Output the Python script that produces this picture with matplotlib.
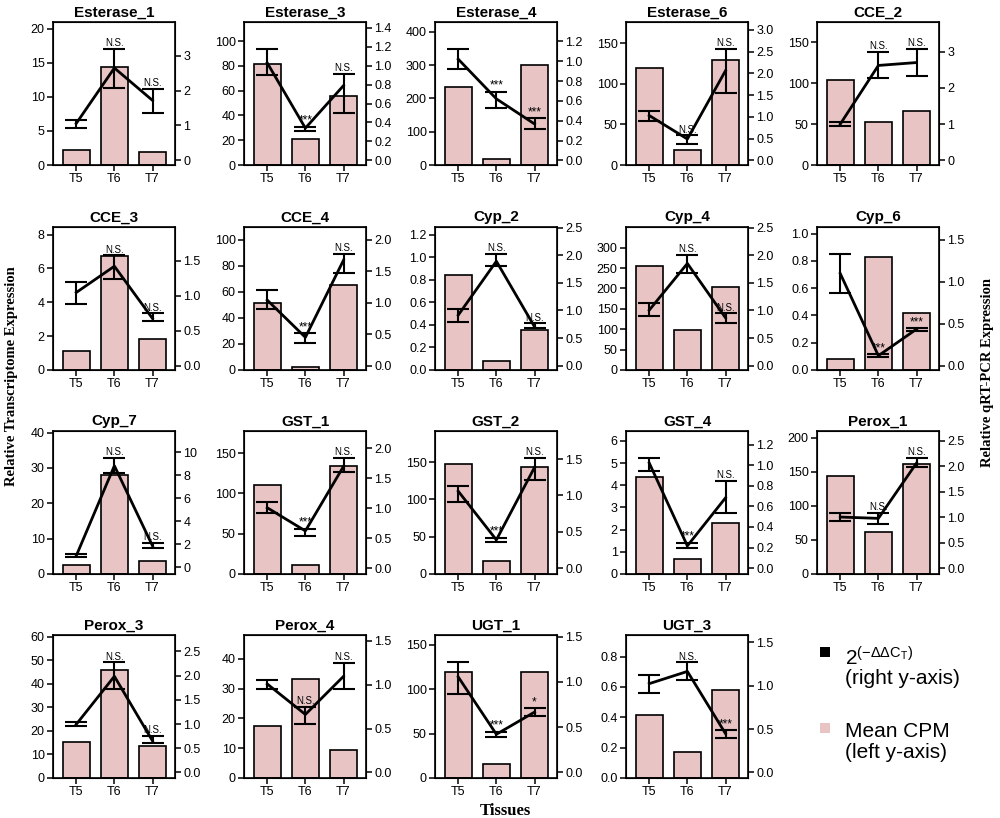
import matplotlib
matplotlib.use("Agg")
import matplotlib.pyplot as plt
from matplotlib.patches import Rectangle

plt.rcParams['font.family'] = ['Liberation Sans', 'DejaVu Sans']
plt.rcParams['mathtext.fontset'] = 'custom'
plt.rcParams['mathtext.rm'] = 'Liberation Sans'

tissues = ["T5", "T6", "T7"]
genes = ["Esterase_1", "Esterase_3", "Esterase_4", "Esterase_6", "CCE_2",
         "CCE_3", "CCE_4", "Cyp_2", "Cyp_4", "Cyp_6",
         "Cyp_7", "GST_1", "GST_2", "GST_4", "Perox_1",
         "Perox_3", "Perox_4", "UGT_1", "UGT_3"]

# Mean CPM (left axis bars)
cpm = [[2.2, 14.4, 1.9], [81.4, 21.0, 55.5], [236, 19, 301], [119, 19, 128.6], [103.4, 53.1, 65.8],
       [1.12, 6.72, 1.81], [51.5, 2.3, 65.5], [0.84, 0.083, 0.354], [254, 98.6, 203], [0.078, 0.829, 0.415],
       [2.53, 27.9, 3.56], [111, 11.1, 133.6], [147.4, 16.9, 143.4], [4.36, 0.67, 2.31], [143.2, 61.7, 161.2],
       [15.3, 45.7, 13.7], [17.4, 33.3, 9.4], [119, 15.7, 119], [0.412, 0.174, 0.578]]

# 2^(-ddCt) (right axis line), with lower / upper error bounds
q_mean = [[1.06, 2.65, 1.72], [1.03, 0.34, 0.79], [1.02, 0.62, 0.367], [1.03, 0.49, 2.06], [1.0, 2.62, 2.70],
          [1.048, 1.424, 0.676], [1.04, 0.449, 1.673], [0.916, 1.89, 0.705], [1.006, 1.85, 0.867], [1.096, 0.119, 0.435],
          [1.006, 8.82, 1.87], [1.006, 0.619, 1.696], [1.058, 0.388, 1.386], [1.023, 0.216, 0.684], [1.003, 0.977, 2.064],
          [0.993, 1.986, 0.651], [1.009, 0.661, 1.096], [1.054, 0.421, 0.666], [1.023, 1.164, 0.447]]
q_lo = [[0.92, 2.07, 1.37], [0.905, 0.31, 0.505], [0.92, 0.53, 0.317], [0.913, 0.376, 1.558], [0.95, 2.26, 2.33],
        [0.89, 1.248, 0.643], [0.892, 0.364, 1.478], [0.789, 1.81, 0.675], [0.898, 1.68, 0.777], [0.859, 0.107, 0.412],
        [0.862, 8.19, 1.724], [0.912, 0.536, 1.602], [0.912, 0.36, 1.218], [0.942, 0.2, 0.539], [0.924, 0.872, 1.986],
        [0.959, 1.733, 0.603], [0.956, 0.548, 0.956], [0.871, 0.391, 0.622], [0.916, 1.069, 0.393]]
q_hi = [[1.16, 3.19, 2.05], [1.177, 0.357, 0.915], [1.12, 0.694, 0.425], [1.136, 0.576, 2.555], [1.07, 2.99, 3.07],
        [1.2, 1.58, 0.748], [1.198, 0.512, 1.768], [1.018, 2.02, 0.765], [1.127, 2.01, 0.946], [1.326, 0.139, 0.451],
        [1.149, 9.48, 2.155], [1.105, 0.657, 1.834], [1.126, 0.42, 1.514], [1.071, 0.248, 0.852], [1.087, 1.087, 2.161],
        [1.048, 2.274, 0.753], [1.058, 0.748, 1.254], [1.215, 0.45, 0.706], [1.122, 1.267, 0.489]]

sig = [["", "N.S.", "N.S."], ["", "***", "N.S."], ["", "***", "***"], ["", "N.S.", "N.S."], ["", "N.S.", "N.S."],
       ["", "N.S.", "N.S."], ["", "***", "N.S."], ["", "N.S.", "N.S."], ["", "N.S.", "N.S."], ["", "***", "***"],
       ["", "N.S.", "N.S."], ["", "***", "N.S."], ["", "***", "N.S."], ["", "***", "N.S."], ["", "N.S.", "N.S."],
       ["", "N.S.", "N.S."], ["", "N.S.", "N.S."], ["", "***", "*"], ["", "N.S.", "***"]]

# tick labels: (start, stop, step) for left and right axes
left_ticks = [(0, 20, 5), (0, 100, 20), (0, 400, 100), (0, 150, 50), (0, 150, 50),
              (0, 8, 2), (0, 100, 20), (0.0, 1.2, 0.2), (0, 300, 50), (0.0, 1.0, 0.2),
              (0, 40, 10), (0, 150, 50), (0, 150, 50), (0, 6, 1), (0, 200, 50),
              (0, 60, 10), (0, 40, 10), (0, 150, 50), (0.0, 0.8, 0.2)]
right_ticks = [(0, 3, 1), (0.0, 1.4, 0.2), (0.0, 1.2, 0.2), (0.0, 3.0, 0.5), (0, 3, 1),
               (0.0, 1.5, 0.5), (0.0, 2.0, 0.5), (0.0, 2.5, 0.5), (0.0, 2.5, 0.5), (0.0, 1.5, 0.5),
               (0, 10, 2), (0.0, 2.0, 0.5), (0.0, 1.5, 0.5), (0.0, 1.2, 0.2), (0.0, 2.5, 0.5),
               (0.0, 2.5, 0.5), (0.0, 1.5, 0.5), (0.0, 1.5, 0.5), (0.0, 1.5, 0.5)]
left_top = [21.0, 115.4, 430, 175.9, 174.9,
            8.45, 109.7, 1.268, 350.5, 1.049,
            40.45, 177.5, 191.7, 6.45, 209.7,
            60.7, 48.0, 161.2, 0.942]
right_lim = [(-0.134, 3.97), (-0.05, 1.463), (-0.047, 1.395), (-0.107, 3.18), (-0.13, 3.82),
             (-0.062, 1.986), (-0.069, 2.2), (-0.078, 2.51), (-0.078, 2.51), (-0.051, 1.65),
             (-0.575, 11.84), (-0.1, 2.287), (-0.082, 1.888), (-0.058, 1.335), (-0.117, 2.695),
             (-0.116, 2.84), (-0.064, 1.568), (-0.062, 1.518), (-0.065, 1.584)]

BAR_COLOR = '#E8C4C4'
W, H = 1000, 818
fig = plt.figure(figsize=(W / 100, H / 100), dpi=100)

col_left = [53, 244, 435, 626, 817]
row_top = [22, 227, 431, 635]
ax_w, ax_h = 122, 143


def make_ticks(spec):
    a, b, s = spec
    n = int(round((b - a) / s))
    vals = [a + i * s for i in range(n + 1)]
    is_int = all(float(v).is_integer() for v in (a, b, s))
    labels = [("%d" % round(v)) if is_int else ("%.1f" % v) for v in vals]
    return vals, labels


x = [1, 2, 3]
for i, g in enumerate(genes):
    r, c = divmod(i, 5)
    left = col_left[c] / W
    bottom = 1 - (row_top[r] + ax_h) / H
    ax = fig.add_axes([left, bottom, ax_w / W, ax_h / H])
    ax.bar(x, cpm[i], width=0.7, color=BAR_COLOR, edgecolor='black', linewidth=1.2, zorder=2)
    ax.set_xlim(0.39, 3.59)
    ax.set_ylim(0, left_top[i])
    vals, labs = make_ticks(left_ticks[i])
    ax.set_yticks(vals)
    ax.set_yticklabels(labs)
    ax.set_xticks(x)
    ax.set_xticklabels(tissues)
    ax.tick_params(axis='both', labelsize=9, length=4, width=1.1, pad=2, direction='out')
    ax.set_title(g, fontsize=11, fontweight='bold', pad=4)
    for sp in ax.spines.values():
        sp.set_linewidth(1.2)

    ax2 = ax.twinx()
    ax2.set_ylim(*right_lim[i])
    vals, labs = make_ticks(right_ticks[i])
    ax2.set_yticks(vals)
    ax2.set_yticklabels(labs)
    ax2.tick_params(axis='y', labelsize=9, length=4, width=1.1, pad=2, direction='out')
    m = q_mean[i]
    lo = [m[k] - q_lo[i][k] for k in range(3)]
    hi = [q_hi[i][k] - m[k] for k in range(3)]
    ax2.errorbar(x, m, yerr=[lo, hi], fmt='none', ecolor='black', elinewidth=1.5,
                 capsize=8, capthick=1.5, zorder=3)
    ax2.plot(x, m, color='black', lw=2, zorder=4)
    for k in range(3):
        if sig[i][k]:
            fs = 7 if sig[i][k] == "N.S." else 8.5
            ax2.annotate(sig[i][k], (x[k], q_hi[i][k]), xytext=(0, 2), textcoords='offset points',
                         ha='center', va='baseline', fontsize=fs, zorder=5)

serif = ['Liberation Serif', 'DejaVu Serif']
fig.text(0.012, 0.54, "Relative Transcriptome Expression", rotation=90, ha='center', va='center',
         family=serif, fontweight='bold', fontsize=10.5)
fig.text(0.988, 0.545, "Relative qRT-PCR Expression", rotation=90, ha='center', va='center',
         family=serif, fontweight='bold', fontsize=10.5)
fig.text(0.505, 0.009, "Tissues", ha='center', va='center', family=serif, fontweight='bold', fontsize=12)

# legend
fig.add_artist(Rectangle((820 / W, 1 - 657 / H), 10 / W, 10 / H, transform=fig.transFigure,
                         facecolor='black', edgecolor='none'))
fig.add_artist(Rectangle((820 / W, 1 - 733 / H), 10 / W, 10 / H, transform=fig.transFigure,
                         facecolor=BAR_COLOR, edgecolor='none'))
fig.text(845 / W, 1 - 665 / H, r"$\mathregular{2^{(-\Delta\Delta C_T)}}$", ha='left', va='baseline', fontsize=15)
fig.text(845 / W, 1 - 684 / H, "(right y-axis)", ha='left', va='baseline', fontsize=15)
fig.text(845 / W, 1 - 737 / H, "Mean CPM", ha='left', va='baseline', fontsize=15)
fig.text(845 / W, 1 - 758 / H, "(left y-axis)", ha='left', va='baseline', fontsize=15)

fig.savefig("out.png", dpi=100)
